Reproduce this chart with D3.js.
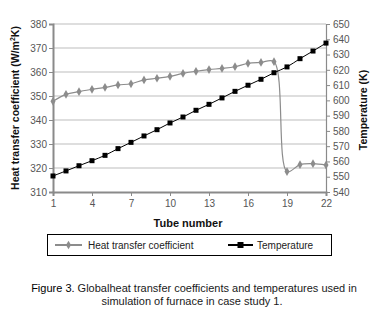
<!DOCTYPE html>
<html><head><meta charset="utf-8">
<script src="https://cdn.jsdelivr.net/npm/d3@7"></script>
<style>
body{margin:0;background:#fff;}
svg{display:block;font-family:"Liberation Sans",Arial,sans-serif;}
</style></head>
<body><svg id="c" width="384" height="318"></svg>
<script>
const tubes = d3.range(1, 23);
const htc = [347.8,350.7,351.8,352.8,353.6,354.6,355.1,356.7,357.4,358.2,359.4,360.3,361.0,361.5,362.2,363.6,364.0,364.3,318.5,321.4,321.8,321.2];
const temp = [550.5,553.8,557.2,560.5,564.0,568.4,572.5,576.7,580.8,585.2,589.1,593.5,597.4,601.6,605.9,609.9,613.8,618.1,621.9,627.3,632.3,637.5];
const xTicks = [1,4,7,10,13,16,19,22];
const leftTicks = d3.range(310, 381, 10);
const rightTicks = d3.range(540, 651, 10);

const svg = d3.select("#c");
const L = 53, R = 326, T = 24, B = 192;
const x = d3.scaleLinear().domain([1,22]).range([L,R]);
const yL = d3.scaleLinear().domain([310,380]).range([B,T]);
const yR = d3.scaleLinear().domain([540,650]).range([B,T]);

// gridlines
svg.append("g").selectAll("line").data(leftTicks.filter(d=>d>310)).join("line")
  .attr("x1",L).attr("x2",R).attr("y1",d=>yL(d)).attr("y2",d=>yL(d))
  .attr("stroke","#bdbdbd").attr("stroke-width",1);

const tickColor = "#8a8a8a", labColor = "#555";
// left axis
const gl = svg.append("g").attr("transform",`translate(${L},0)`).call(d3.axisLeft(yL).tickValues(leftTicks).tickSize(4).tickPadding(2));
gl.select(".domain").attr("stroke",tickColor).attr("stroke-width",2);
gl.selectAll(".tick line").attr("stroke",tickColor);
gl.selectAll(".tick text").attr("fill",labColor).style("font-size","10px");
// right axis
const gr = svg.append("g").attr("transform",`translate(${R},0)`).call(d3.axisRight(yR).tickValues(rightTicks).tickSize(4).tickPadding(3));
gr.select(".domain").attr("stroke",tickColor).attr("stroke-width",1.2);
gr.selectAll(".tick line").attr("stroke",tickColor);
gr.selectAll(".tick text").attr("fill",labColor).style("font-size","10px");
// bottom axis
const gb = svg.append("g").attr("transform",`translate(0,${B})`).call(d3.axisBottom(x).tickValues(xTicks).tickSize(4).tickPadding(4).tickFormat(d3.format("d")));
gb.select(".domain").attr("stroke",tickColor).attr("stroke-width",2);
gb.selectAll(".tick line").attr("stroke",tickColor);
gb.selectAll(".tick text").attr("fill",labColor).style("font-size","10px");

const curve = d3.curveCatmullRom.alpha(0.5);
// htc series
const gray = "#8c8c8c";
svg.append("path").datum(tubes.map((t,i)=>[t,htc[i]]))
  .attr("d", d3.line().x(d=>x(d[0])).y(d=>yL(d[1])).curve(curve))
  .attr("fill","none").attr("stroke",gray).attr("stroke-width",1.2);
svg.append("g").selectAll("path").data(tubes.map((t,i)=>[t,htc[i]])).join("path")
  .attr("d", d3.symbol(d3.symbolDiamond, 22))
  .attr("transform", d=>`translate(${x(d[0])},${yL(d[1])})`)
  .attr("fill",gray);
// temperature series
svg.append("path").datum(tubes.map((t,i)=>[t,temp[i]]))
  .attr("d", d3.line().x(d=>x(d[0])).y(d=>yR(d[1])).curve(curve))
  .attr("fill","none").attr("stroke","#000").attr("stroke-width",1);
svg.append("g").selectAll("rect").data(tubes.map((t,i)=>[t,temp[i]])).join("rect")
  .attr("x",d=>x(d[0])-2.5).attr("y",d=>yR(d[1])-2.5).attr("width",5).attr("height",5)
  .attr("fill","#000");

// axis titles
svg.append("text").attr("transform","translate(19,108) rotate(-90)").attr("text-anchor","middle")
  .style("font-size","10.5px").style("font-weight","bold").attr("fill","#111")
  .html('Heat transfer coefficient (W/m<tspan dy="-4" style="font-size:7px">2</tspan><tspan dy="4">K)</tspan>');
svg.append("text").attr("transform","translate(367,110) rotate(-90)").attr("text-anchor","middle")
  .style("font-size","10.5px").style("font-weight","bold").attr("fill","#111")
  .text("Temperature (K)");
svg.append("text").attr("x",188).attr("y",227).attr("text-anchor","middle")
  .style("font-size","11px").style("font-weight","bold").attr("fill","#111")
  .text("Tube number");

// legend
svg.append("rect").attr("x",47.5).attr("y",234.5).attr("width",284).attr("height",21)
  .attr("fill","none").attr("stroke","#000").attr("stroke-width",1);
svg.append("line").attr("x1",55).attr("x2",82).attr("y1",245).attr("y2",245).attr("stroke",gray).attr("stroke-width",2);
svg.append("path").attr("d",d3.symbol(d3.symbolDiamond,22)).attr("transform","translate(68.5,245)").attr("fill",gray);
svg.append("text").attr("x",88).attr("y",248.5).style("font-size","10px").attr("fill","#222").text("Heat transfer coefficient");
svg.append("line").attr("x1",228).attr("x2",253).attr("y1",245).attr("y2",245).attr("stroke","#000").attr("stroke-width",2);
svg.append("rect").attr("x",237.5).attr("y",242).attr("width",6).attr("height",6).attr("fill","#000");
svg.append("text").attr("x",257).attr("y",248.5).style("font-size","10px").attr("fill","#222").text("Temperature");

// caption
const cap = svg.append("text").attr("x",194).attr("y",292).attr("text-anchor","middle").style("font-size","11px").attr("fill","#1a1a1a");
cap.append("tspan").attr("fill","#000").text("Figure 3. ");
cap.append("tspan").text("Globalheat transfer coefficients and temperatures used in");
svg.append("text").attr("x",192).attr("y",305).attr("text-anchor","middle").style("font-size","11px").attr("fill","#1a1a1a")
  .text("simulation of furnace in case study 1.");
</script></body></html>
